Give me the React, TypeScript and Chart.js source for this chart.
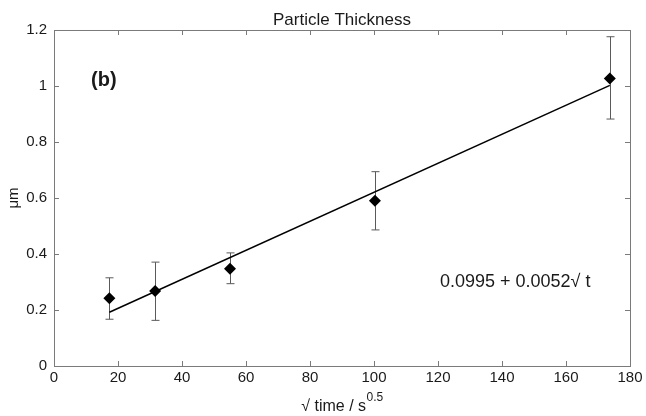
import React, { useEffect, useRef } from "react";
import { Chart, registerables } from "chart.js";

Chart.register(...registerables);

// Data
const sqrtTime = [17.3, 31.6, 55.0, 100.3, 173.7];
const thickness = [0.242, 0.268, 0.347, 0.59, 1.027];
const errLow = [0.167, 0.163, 0.294, 0.486, 0.882];
const errHigh = [0.315, 0.371, 0.404, 0.694, 1.176];
const fitX = [17.3, 173.7];
const fitY = [0.192, 1.002];

const xTicks = [0, 20, 40, 60, 80, 100, 120, 140, 160, 180];
const yTicks = [0, 0.2, 0.4, 0.6, 0.8, 1, 1.2];

const titleText = "Particle Thickness";
const yTitle = "μm";
const xTitleMain = "√ time / s";
const xTitleSup = "0.5";
const panelLabel = "(b)";
const equationText = "0.0995 + 0.0052√ t";

const FONT = "'Liberation Sans', Arial, Helvetica, sans-serif";

export default function App() {
  const ref = useRef<HTMLCanvasElement | null>(null);

  useEffect(() => {
    const canvas = ref.current;
    if (!canvas) return;

    const decor = {
      id: "decor",
      beforeDatasetsDraw(chart: any) {
        const { ctx, chartArea } = chart;
        const { left, right, top, bottom } = chartArea;
        const xs = chart.scales.x;
        const ys = chart.scales.y;
        ctx.save();
        // box
        ctx.strokeStyle = "#7a7a7a";
        ctx.lineWidth = 1;
        ctx.strokeRect(Math.round(left) + 0.5, Math.round(top) + 0.5, Math.round(right - left), Math.round(bottom - top));
        // inward ticks
        const tl = 5;
        ctx.beginPath();
        xTicks.forEach((v) => {
          const px = Math.round(xs.getPixelForValue(v)) + 0.5;
          ctx.moveTo(px, bottom);
          ctx.lineTo(px, bottom - tl);
          ctx.moveTo(px, top);
          ctx.lineTo(px, top + tl);
        });
        yTicks.forEach((v) => {
          const py = Math.round(ys.getPixelForValue(v)) + 0.5;
          ctx.moveTo(left, py);
          ctx.lineTo(left + tl, py);
          ctx.moveTo(right, py);
          ctx.lineTo(right - tl, py);
        });
        ctx.stroke();
        // error bars
        ctx.strokeStyle = "#5a5a5a";
        ctx.lineWidth = 1;
        ctx.beginPath();
        sqrtTime.forEach((xv, i) => {
          const px = Math.round(xs.getPixelForValue(xv)) + 0.5;
          const pLo = ys.getPixelForValue(errLow[i]);
          const pHi = ys.getPixelForValue(errHigh[i]);
          ctx.moveTo(px, pLo);
          ctx.lineTo(px, pHi);
          ctx.moveTo(px - 4, pLo);
          ctx.lineTo(px + 4, pLo);
          ctx.moveTo(px - 4, pHi);
          ctx.lineTo(px + 4, pHi);
        });
        ctx.stroke();
        ctx.restore();
      },
      afterDraw(chart: any) {
        const { ctx, chartArea } = chart;
        const { left, right, top, bottom } = chartArea;
        const cx = (left + right) / 2;
        ctx.save();
        ctx.fillStyle = "#1a1a1a";
        // title
        ctx.font = `17px ${FONT}`;
        ctx.textAlign = "center";
        ctx.textBaseline = "alphabetic";
        ctx.fillText(titleText, cx, top - 5);
        // x title with superscript
        ctx.font = `16px ${FONT}`;
        const wMain = ctx.measureText(xTitleMain).width;
        ctx.font = `12px ${FONT}`;
        const wSup = ctx.measureText(xTitleSup).width;
        const startX = cx - (wMain + wSup) / 2;
        ctx.textAlign = "left";
        ctx.font = `16px ${FONT}`;
        ctx.fillText(xTitleMain, startX, 411);
        ctx.font = `12px ${FONT}`;
        ctx.fillText(xTitleSup, startX + wMain + 0.5, 401);
        // y title
        ctx.save();
        ctx.translate(14, (top + bottom) / 2);
        ctx.rotate(-Math.PI / 2);
        ctx.font = `15px ${FONT}`;
        ctx.textAlign = "center";
        ctx.textBaseline = "middle";
        ctx.fillText(yTitle, 0, 0);
        ctx.restore();
        // panel label
        ctx.font = `bold 20px ${FONT}`;
        ctx.textAlign = "left";
        ctx.textBaseline = "middle";
        ctx.fillText(panelLabel, 91, 80);
        // equation
        ctx.font = `18px ${FONT}`;
        ctx.fillText(equationText, 440, 282);
        ctx.restore();
      },
    };

    const chart = new Chart(canvas, {
      type: "scatter",
      data: {
        datasets: [
          {
            type: "line",
            label: "fit",
            data: fitX.map((x, i) => ({ x, y: fitY[i] })),
            borderColor: "#000",
            borderWidth: 1.5,
            pointRadius: 0,
            fill: false,
          } as any,
          {
            label: "data",
            data: sqrtTime.map((x, i) => ({ x, y: thickness[i] })),
            pointStyle: "rectRot",
            pointRadius: 6,
            backgroundColor: "#000",
            borderColor: "#000",
            borderWidth: 0,
          },
        ],
      },
      options: {
        responsive: false,
        animation: false,
        layout: { padding: { top: 30, right: 16, left: 0, bottom: 0 } },
        plugins: {
          legend: { display: false },
          tooltip: { enabled: false },
          title: { display: false },
        },
        scales: {
          x: {
            type: "linear",
            min: 0,
            max: 180,
            afterBuildTicks: (s: any) => {
              s.ticks = xTicks.map((v) => ({ value: v }));
            },
            ticks: {
              font: { family: FONT, size: 15 },
              color: "#1a1a1a",
              padding: 3,
              maxRotation: 0,
              autoSkip: false,
            },
            grid: { display: false, drawTicks: false },
            border: { display: false },
            afterFit: (s: any) => {
              s.height = 50;
            },
          },
          y: {
            type: "linear",
            min: 0,
            max: 1.2,
            afterBuildTicks: (s: any) => {
              s.ticks = yTicks.map((v) => ({ value: v }));
            },
            ticks: {
              font: { family: FONT, size: 15 },
              color: "#1a1a1a",
              padding: 7,
              autoSkip: false,
              callback: (v: any) => String(+Number(v).toFixed(1)),
            },
            grid: { display: false, drawTicks: false },
            border: { display: false },
            afterFit: (s: any) => {
              s.width = 54;
            },
          },
        },
      } as any,
      plugins: [decor],
    });

    return () => chart.destroy();
  }, []);

  return (
    <div style={{ position: "fixed", left: 0, top: 0, width: 646, height: 416, background: "#fff" }}>
      <canvas ref={ref} width={646} height={416} style={{ display: "block" }} />
    </div>
  );
}
